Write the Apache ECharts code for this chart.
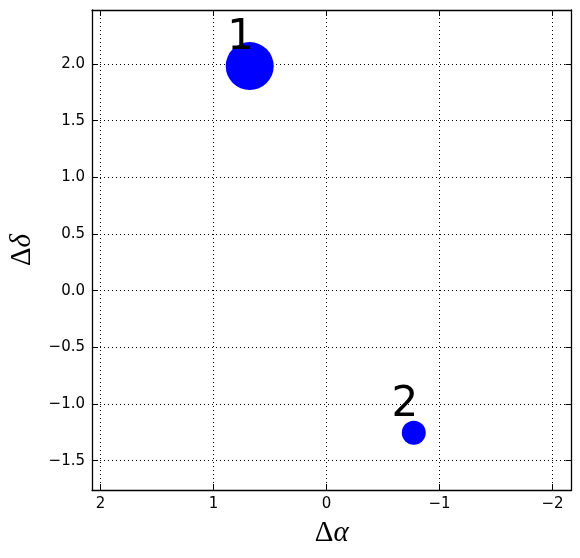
<!DOCTYPE html>
<html><head><meta charset="utf-8">
<script src="https://cdn.jsdelivr.net/npm/echarts@6/dist/echarts.min.js"></script>
<style>html,body{margin:0;padding:0;background:#fff}#c{width:580px;height:558px}</style>
</head><body><div id="c"></div>
<script>
const names = ['1', '2'];
const dAlpha = [0.68, -0.772];
const dDelta = [1.982, -1.253];
const weight = [2, 1];
const xTicks = [2, 1, 0, -1, -2];
const yTicks = [2.0, 1.5, 1.0, 0.5, 0.0, -0.5, -1.0, -1.5];
const xRange = [-2.168, 2.076];
const yRange = [-1.759, 2.477];

const fmtMinus = (s) => s.replace('-', '\u2212');
const tickFont = {fontFamily: 'DejaVu Sans', fontSize: 15, color: '#000'};

function xAxisDef(pos, labels) {
  return {
    type: 'value', position: pos, inverse: true, min: xRange[0], max: xRange[1],
    axisLine: {show: true, onZero: false, lineStyle: {color: '#000', width: 1.3}},
    axisTick: {show: true, inside: true, length: 6, customValues: xTicks, lineStyle: {color: '#000', width: 1}},
    axisLabel: Object.assign({show: labels, margin: 7, customValues: xTicks,
      formatter: v => fmtMinus(String(v))}, tickFont),
    splitLine: {show: labels, lineStyle: {color: '#000', width: 1, type: [1, 3]}},
    name: labels ? '{d|Δ}{g|α}' : '', nameLocation: 'middle', nameGap: 29,
    nameTextStyle: {rich: {d: {fontFamily: 'Liberation Serif', fontSize: 29, color: '#000'},
      g: {fontFamily: 'Liberation Serif', fontStyle: 'italic', fontSize: 29, color: '#000'}}}
  };
}
function yAxisDef(pos, labels) {
  return {
    type: 'value', position: pos, min: yRange[0], max: yRange[1],
    axisLine: {show: true, onZero: false, lineStyle: {color: '#000', width: 1.3}},
    axisTick: {show: true, inside: true, length: 6, customValues: yTicks, lineStyle: {color: '#000', width: 1}},
    axisLabel: Object.assign({show: labels, margin: 7, customValues: yTicks,
      formatter: v => fmtMinus(v.toFixed(1))}, tickFont),
    splitLine: {show: labels, lineStyle: {color: '#000', width: 1, type: [1, 3]}},
    name: labels ? '{d|Δ}{g|δ}' : '', nameLocation: 'middle', nameGap: 55, nameRotate: 90,
    nameTextStyle: {rich: {d: {fontFamily: 'Liberation Serif', fontSize: 29, color: '#000'},
      g: {fontFamily: 'Liberation Serif', fontStyle: 'italic', fontSize: 29, color: '#000'}}}
  };
}

const chart = echarts.init(document.getElementById('c'), null, {renderer: 'canvas'});
chart.setOption({
  animation: false,
  grid: {left: 91, right: 8.5, top: 10, bottom: 68, show: false},
  xAxis: [xAxisDef('bottom', true), xAxisDef('top', false)],
  yAxis: [yAxisDef('left', true), yAxisDef('right', false)],
  series: [{
    type: 'scatter',
    data: names.map((n, i) => ({name: n, value: [dAlpha[i], dDelta[i], weight[i]]})),
    symbolSize: v => 24 * v[2],
    itemStyle: {color: '#0000ff', opacity: 1},
    label: {show: true, position: 'inside', offset: [-9, -28], formatter: p => p.name,
      fontFamily: 'DejaVu Sans', fontSize: 42, color: '#000'}
  }]
});
</script></body></html>
